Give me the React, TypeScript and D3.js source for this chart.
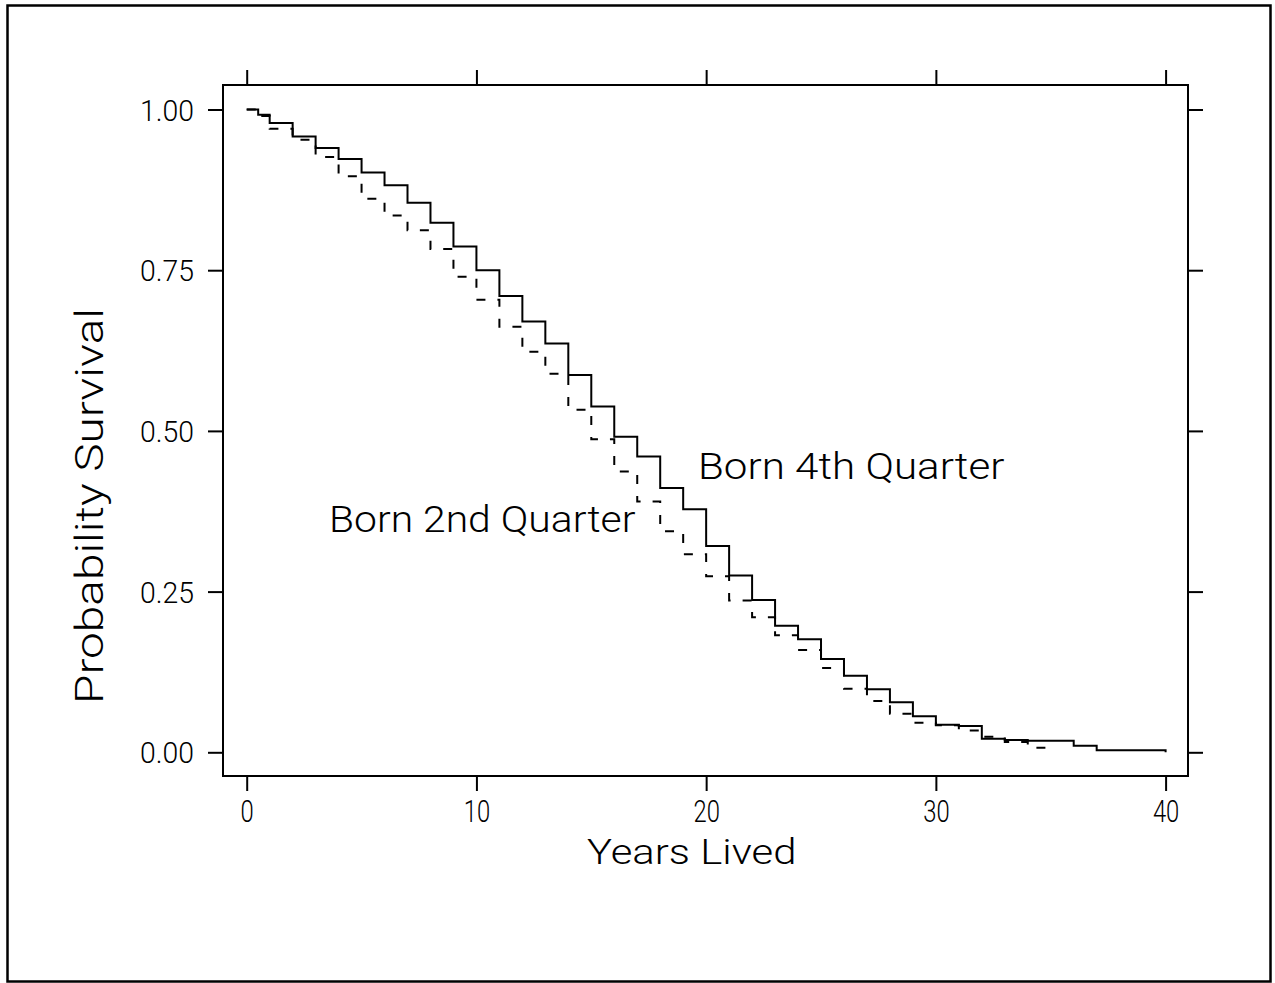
import React, {useEffect, useRef} from 'react'
import * as d3 from 'd3'

// Kaplan-Meier style step data
const q4Times = [0, 0.5, 1, 2, 3, 4, 5, 6, 7, 8, 9, 10, 11, 12, 13, 14, 15, 16, 17, 18, 19, 20,
  21, 22, 23, 24, 25, 26, 27, 28, 29, 30, 31, 32, 33, 34, 36, 37, 40]
const q4Surv = [1.000, 0.992, 0.979, 0.958, 0.940, 0.923, 0.902, 0.882, 0.855, 0.824, 0.787, 0.750,
  0.710, 0.670, 0.636, 0.587, 0.538, 0.491, 0.460, 0.411, 0.378, 0.321, 0.275, 0.237, 0.197, 0.176,
  0.145, 0.119, 0.098, 0.078, 0.056, 0.043, 0.041, 0.021, 0.019, 0.018, 0.010, 0.003, 0.000]

const q2Times = [0, 0.5, 1, 2, 3, 4, 5, 6, 7, 8, 9, 10, 11, 12, 13, 14, 15, 16, 17, 18, 19, 20,
  21, 22, 23, 24, 25, 26, 27, 28, 29, 30, 31, 32, 33, 34, 35]
const q2Surv = [1.000, 0.990, 0.970, 0.953, 0.926, 0.896, 0.861, 0.835, 0.812, 0.783, 0.740, 0.704,
  0.662, 0.623, 0.589, 0.533, 0.487, 0.437, 0.390, 0.344, 0.308, 0.274, 0.236, 0.210, 0.182, 0.159,
  0.131, 0.099, 0.080, 0.060, 0.046, 0.042, 0.034, 0.024, 0.016, 0.007, 0.000]

const xTicks = [0, 10, 20, 30, 40]
const yTicks = [0, 0.25, 0.5, 0.75, 1]

const W = 1275, H = 983
const box = {left: 223, right: 1188, top: 85, bottom: 776}
const font = 'Roboto, "DejaVu Sans", sans-serif'

function App() {
  const ref = useRef<SVGSVGElement | null>(null)

  useEffect(() => {
    const svg = d3.select(ref.current)
    svg.selectAll('*').remove()

    const x = d3.scaleLinear().domain([0, 40]).range([246.7, 1165.6])
    const y = d3.scaleLinear().domain([0, 1]).range([752.3, 109.5])

    // outer frame
    svg.append('rect')
      .attr('x', 7.5).attr('y', 5.5).attr('width', 1263).attr('height', 976)
      .attr('fill', 'none').attr('stroke', 'black').attr('stroke-width', 2.5)

    // plot box
    svg.append('rect')
      .attr('x', box.left).attr('y', box.top)
      .attr('width', box.right - box.left).attr('height', box.bottom - box.top)
      .attr('fill', 'none').attr('stroke', 'black').attr('stroke-width', 2)

    const tick = 15

    const bottom = svg.append('g')
      .attr('transform', `translate(0,${box.bottom})`)
      .call(d3.axisBottom(x).tickValues(xTicks).tickSize(tick).tickFormat(d3.format('d')))
    bottom.select('.domain').remove()
    bottom.selectAll('line').attr('stroke-width', 2)
    bottom.selectAll('text')
      .attr('y', 46).attr('dy', 0)
      .attr('font-family', font).attr('font-weight', 300)
      .attr('font-size', 31).attr('fill', 'black')
      .attr('textLength', (d: any) => String(d).length * 13.2)
      .attr('lengthAdjust', 'spacingAndGlyphs')

    const top = svg.append('g')
      .attr('transform', `translate(0,${box.top})`)
      .call(d3.axisTop(x).tickValues(xTicks).tickSize(tick).tickFormat(() => ''))
    top.select('.domain').remove()
    top.selectAll('line').attr('stroke-width', 2)

    const left = svg.append('g')
      .attr('transform', `translate(${box.left},0)`)
      .call(d3.axisLeft(y).tickValues(yTicks).tickSize(tick).tickFormat(d3.format('.2f')))
    left.select('.domain').remove()
    left.selectAll('line').attr('stroke-width', 2)
    left.selectAll('text')
      .attr('x', -29).attr('dy', '0.35em')
      .attr('font-family', font).attr('font-weight', 300)
      .attr('font-size', 30).attr('fill', 'black')
      .attr('textLength', 54)
      .attr('lengthAdjust', 'spacingAndGlyphs')

    const right = svg.append('g')
      .attr('transform', `translate(${box.right},0)`)
      .call(d3.axisRight(y).tickValues(yTicks).tickSize(tick).tickFormat(() => ''))
    right.select('.domain').remove()
    right.selectAll('line').attr('stroke-width', 2)

    // survival curves
    const line = d3.line<[number, number]>()
      .x(d => x(d[0])).y(d => y(d[1]))
      .curve(d3.curveStepAfter)

    const q4 = q4Times.map((t, i) => [t, q4Surv[i]] as [number, number])
    const q2 = q2Times.map((t, i) => [t, q2Surv[i]] as [number, number])

    svg.append('path').attr('d', line(q2))
      .attr('fill', 'none').attr('stroke', 'black').attr('stroke-width', 2)
      .attr('stroke-dasharray', '9,12')

    svg.append('path').attr('d', line(q4))
      .attr('fill', 'none').attr('stroke', 'black').attr('stroke-width', 2)

    // labels
    const label = (txt: string, px: number, py: number, size: number) =>
      svg.append('text').text(txt)
        .attr('x', px).attr('y', py)
        .attr('font-family', font).attr('font-weight', 300)
        .attr('font-size', size).attr('fill', 'black')
        .attr('textLength', txt.length * 19.4 - 4)
        .attr('lengthAdjust', 'spacingAndGlyphs')

    label('Born 4th Quarter', 698, 479, 36)
    label('Born 2nd Quarter', 329, 531.5, 36)
    label('Years Lived', 587, 864, 35)

    svg.append('text').text('Probability Survival')
      .attr('transform', 'translate(103,506) rotate(-90)')
      .attr('text-anchor', 'middle')
      .attr('font-family', font).attr('font-weight', 300)
      .attr('font-size', 38).attr('fill', 'black')
      .attr('textLength', 396)
      .attr('lengthAdjust', 'spacingAndGlyphs')
  }, [])

  return (
    <svg ref={ref} width={W} height={H}
      style={{position: 'absolute', left: 0, top: 0, background: 'white'}} />
  )
}

export default App
